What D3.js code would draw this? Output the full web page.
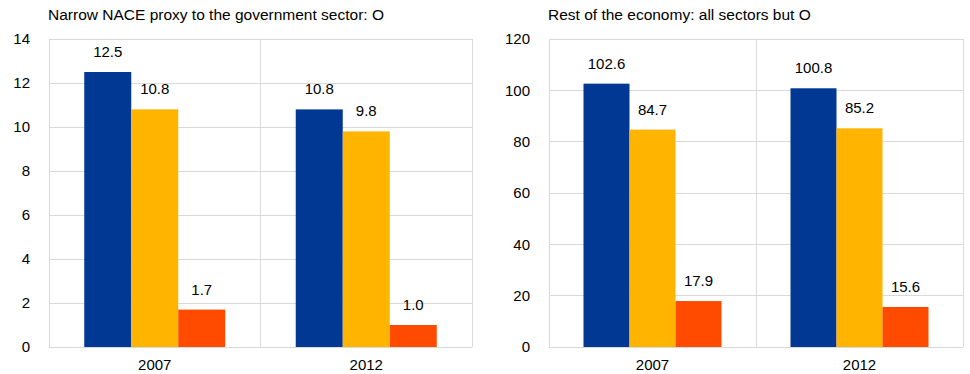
<!DOCTYPE html>
<meta charset="utf-8">
<style>
  body { margin: 0; background: #fff; }
  svg text { font-family: "Liberation Sans", Arial, sans-serif; fill: #000; }
</style>
<script src="https://d3js.org/d3.v7.min.js"></script>
<div id="chart"></div>
<script>
var years = ["2007", "2012"];
var seriesColors = ["#003894", "#FFB400", "#FF4B00"];

// left panel: narrow NACE proxy (O)
var govTitle = "Narrow NACE proxy to the government sector: O";
var govSeries1 = [12.5, 10.8];
var govSeries2 = [10.8, 9.8];
var govSeries3 = [1.7, 1.0];
var govTicks = [0, 2, 4, 6, 8, 10, 12, 14];

// right panel: rest of the economy
var restTitle = "Rest of the economy: all sectors but O";
var restSeries1 = [102.6, 100.8];
var restSeries2 = [84.7, 85.2];
var restSeries3 = [17.9, 15.6];
var restTicks = [0, 20, 40, 60, 80, 100, 120];

var svg = d3.select("#chart").append("svg")
    .attr("width", 970)
    .attr("height", 374);

function panel(opts) {
  var g = svg.append("g").attr("transform", "translate(" + opts.left + ",0)");
  var top = 39, bottom = 347;
  var width = opts.width;

  var x = d3.scaleBand().domain(years).range([0, width]).paddingInner(0).paddingOuter(0);
  var xs = d3.scaleBand().domain([0, 1, 2]).range([0, x.bandwidth() * 2 / 3]);
  var y = d3.scaleLinear().domain([0, d3.max(opts.ticks)]).range([bottom, top]);

  svg.append("text")
    .attr("x", opts.left - 1)
    .attr("y", 20)
    .style("font-size", "15.5px")
    .text(opts.title);

  // gridlines
  g.selectAll(".grid").data(opts.ticks).enter().append("line")
    .attr("x1", 0).attr("x2", width)
    .attr("y1", function(d) { return y(d); })
    .attr("y2", function(d) { return y(d); })
    .attr("stroke", "#d9d9d9").attr("stroke-width", 1)
    .attr("shape-rendering", "crispEdges");

  // vertical frame lines
  var vx = [0, x.bandwidth(), width];
  g.selectAll(".vline").data(vx).enter().append("line")
    .attr("x1", function(d) { return d; }).attr("x2", function(d) { return d; })
    .attr("y1", top).attr("y2", bottom)
    .attr("stroke", "#d9d9d9").attr("stroke-width", 1)
    .attr("shape-rendering", "crispEdges");

  // y tick labels
  g.selectAll(".ylab").data(opts.ticks).enter().append("text")
    .attr("x", -19)
    .attr("y", function(d) { return y(d); })
    .attr("dy", "0.35em")
    .attr("text-anchor", "end")
    .style("font-size", "15px")
    .text(function(d) { return d; });

  // x labels
  g.selectAll(".xlab").data(years).enter().append("text")
    .attr("x", function(d) { return x(d) + x.bandwidth() / 2; })
    .attr("y", 370)
    .attr("text-anchor", "middle")
    .style("font-size", "15px")
    .text(function(d) { return d; });

  var rows = [];
  years.forEach(function(yr, i) {
    opts.series.forEach(function(s, j) {
      rows.push({ year: yr, k: j, v: s[i] });
    });
  });
  var off = x.bandwidth() / 6;

  g.selectAll(".bar").data(rows).enter().append("rect")
    .attr("x", function(d) { return x(d.year) + off + xs(d.k); })
    .attr("width", xs.bandwidth())
    .attr("y", function(d) { return y(d.v); })
    .attr("height", function(d) { return y(0) - y(d.v); })
    .attr("fill", function(d) { return seriesColors[d.k]; });

  g.selectAll(".val").data(rows).enter().append("text")
    .attr("x", function(d) { return x(d.year) + off + xs(d.k) + xs.bandwidth() / 2; })
    .attr("y", function(d) { return y(d.v) - 15; })
    .attr("text-anchor", "middle")
    .style("font-size", "15px")
    .text(function(d) { return d.v.toFixed(1); });
}

panel({ left: 49, width: 423, title: govTitle, ticks: govTicks,
        series: [govSeries1, govSeries2, govSeries3] });
panel({ left: 549, width: 414, title: restTitle, ticks: restTicks,
        series: [restSeries1, restSeries2, restSeries3] });
</script>
